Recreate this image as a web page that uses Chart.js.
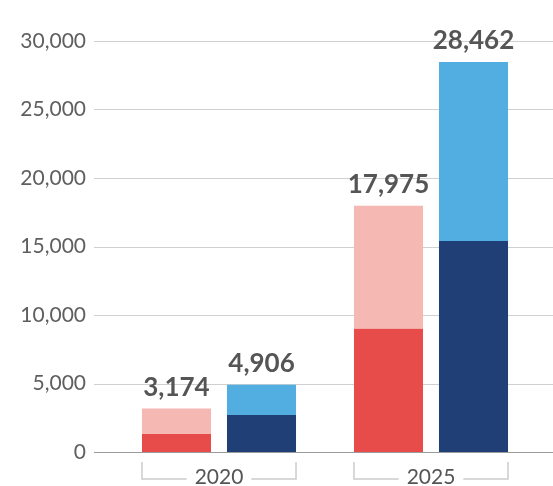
<!DOCTYPE html>
<html>
<head>
<meta charset="utf-8">
<script src="https://cdn.jsdelivr.net/npm/chart.js@4/dist/chart.umd.min.js"></script>
<style>
  html, body { margin: 0; padding: 0; background: #fff; overflow: hidden; }
  canvas { display: block; }
</style>
</head>
<body>
<canvas id="c" width="553" height="486"></canvas>
<script>
// Years on the x axis
const years = ['2020', '2025'];
// Red stack: lower segment and stack total
const redBase = [1320, 9000];
const redTotal = [3174, 17975];
// Blue stack: lower segment and stack total
const blueBase = [2700, 15400];
const blueTotal = [4906, 28462];
// Y axis range and step
const yMax = 30000;
const yStep = 5000;

const redTop = redTotal.map((t, i) => t - redBase[i]);
const blueTop = blueTotal.map((t, i) => t - blueBase[i]);

const FONT = 'Lato, "Open Sans", sans-serif';

// Horizontal grid lines drawn across the full canvas width
const gridPlugin = {
  id: 'fullGrid',
  beforeDatasetsDraw(chart) {
    const { ctx, chartArea, scales: { y } } = chart;
    ctx.save();
    y.ticks.forEach(t => {
      const py = Math.round(y.getPixelForValue(t.value)) + 0.5;
      ctx.beginPath();
      ctx.lineWidth = 1;
      ctx.strokeStyle = t.value === 0 ? '#9a9a9a' : '#d0d0d0';
      ctx.moveTo(chartArea.left - 19, py);
      ctx.lineTo(chart.width, py);
      ctx.stroke();
    });
    ctx.restore();
  }
};

// Stack totals above each bar and brackets under each year group
const annotatePlugin = {
  id: 'annotate',
  afterDatasetsDraw(chart) {
    const { ctx } = chart;
    const tops = [[1, redTotal], [3, blueTotal]];
    ctx.save();
    ctx.font = 'bold 26px ' + FONT;
    ctx.fillStyle = '#555555';
    ctx.textAlign = 'center';
    ctx.textBaseline = 'alphabetic';
    tops.forEach(([di, totals]) => {
      chart.getDatasetMeta(di).data.forEach((bar, i) => {
        ctx.fillText(totals[i].toLocaleString('en-US'), bar.x, bar.y - 13);
      });
    });
    ctx.restore();
  },
  afterDraw(chart) {
    const { ctx, chartArea, scales: { x } } = chart;
    const m0 = chart.getDatasetMeta(0).data;
    const m2 = chart.getDatasetMeta(2).data;
    ctx.save();
    ctx.strokeStyle = '#cccccc';
    ctx.lineWidth = 1.5;
    ctx.font = '21px ' + FONT;
    years.forEach((label, i) => {
      const l = m0[i].x - m0[i].width / 2;
      const r = m2[i].x + m2[i].width / 2;
      const cx = x.getPixelForTick(i);
      const half = ctx.measureText(label).width / 2 + 8;
      const top = chartArea.bottom + 10;
      const by = chartArea.bottom + 27;
      ctx.beginPath();
      ctx.moveTo(l, top); ctx.lineTo(l, by); ctx.lineTo(cx - half, by);
      ctx.moveTo(cx + half, by); ctx.lineTo(r, by); ctx.lineTo(r, top);
      ctx.stroke();
    });
    ctx.restore();
  }
};

new Chart(document.getElementById('c'), {
  type: 'bar',
  data: {
    labels: years,
    datasets: [
      { data: redBase, backgroundColor: '#E84C4A', stack: 'red' },
      { data: redTop, backgroundColor: '#F6B8B3', stack: 'red' },
      { data: blueBase, backgroundColor: '#213F77', stack: 'blue' },
      { data: blueTop, backgroundColor: '#52ADE0', stack: 'blue' }
    ]
  },
  options: {
    responsive: false,
    animation: false,
    datasets: { bar: { categoryPercentage: 0.802, barPercentage: 0.812, borderWidth: 0 } },
    layout: { padding: { top: 41, right: 16, left: 0, bottom: 0 } },
    plugins: { legend: { display: false }, tooltip: { enabled: false } },
    scales: {
      x: {
        stacked: true,
        offset: true,
        grid: { display: false, drawTicks: false },
        border: { display: false },
        ticks: { color: '#555555', font: { family: FONT, size: 21 }, padding: 13 },
        afterFit(s) { s.height = 34; }
      },
      y: {
        stacked: true,
        min: 0,
        max: yMax,
        grid: { display: false, drawTicks: true, tickLength: 27 },
        border: { display: false },
        ticks: {
          stepSize: yStep,
          color: '#5f5f5f',
          padding: 0,
          font: { family: FONT, size: 21 },
          callback: v => v.toLocaleString('en-US')
        },
        afterFit(s) { s.width = 113; }
      }
    }
  },
  plugins: [gridPlugin, annotatePlugin]
});
</script>
</body>
</html>
